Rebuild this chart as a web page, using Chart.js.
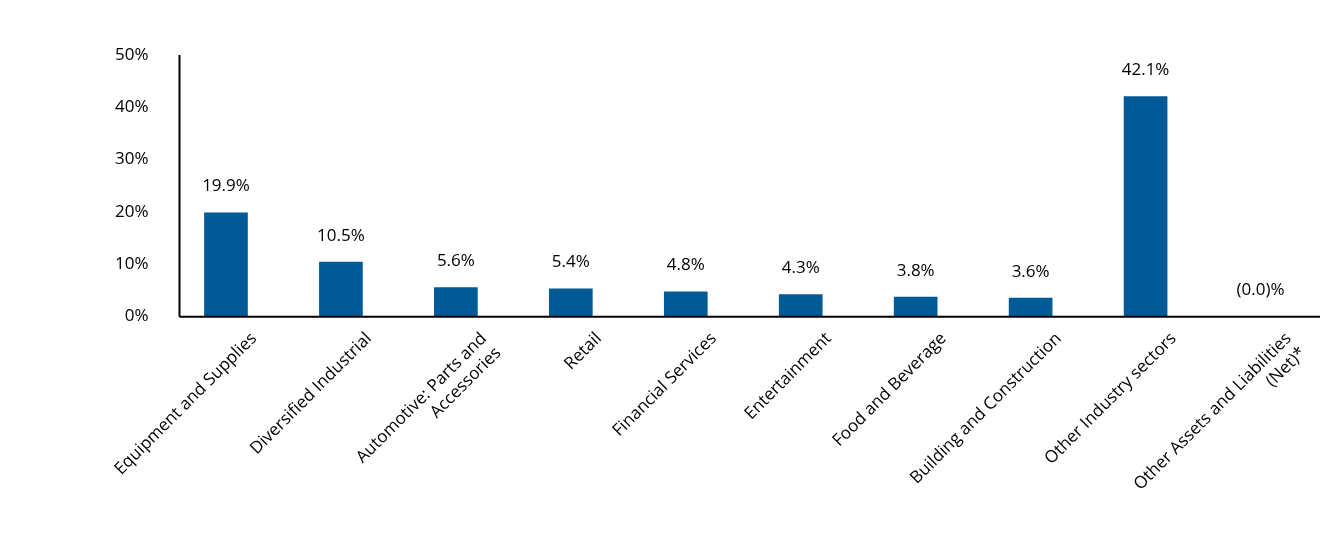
<!DOCTYPE html>
<html>
<head>
<meta charset="utf-8">
<script src="https://cdn.jsdelivr.net/npm/chart.js@4.4.1/dist/chart.umd.min.js"></script>
<style>
  html, body { margin: 0; padding: 0; background: #fff; }
  #wrap { width: 1320px; height: 540px; position: relative; }
</style>
</head>
<body>
<div id="wrap"><canvas id="sectorChart"></canvas></div>
<script>
// Sector breakdown, % of portfolio
const sectors = [
    'Equipment and Supplies',
    'Diversified Industrial',
    ['Automotive: Parts and', 'Accessories'],
    'Retail',
    'Financial Services',
    'Entertainment',
    'Food and Beverage',
    'Building and Construction',
    'Other Industry sectors',
    ['Other Assets and Liabilities', '(Net)*']
];
const weights = [19.9, 10.5, 5.6, 5.4, 4.8, 4.3, 3.8, 3.6, 42.1, -0.02];
const yTicks = [0, 10, 20, 30, 40, 50];

const FONT = 'Open Sans';
const BAR_BLUE = '#005a96';

function formatPct(v) {
    const s = Math.abs(v).toFixed(1);
    return v < 0 ? `(${s})%` : `${s}%`;
}

// value labels above each bar
const valueLabels = {
    id: 'valueLabels',
    afterDatasetsDraw(chart) {
        const ctx = chart.ctx;
        const meta = chart.getDatasetMeta(0);
        ctx.save();
        ctx.font = `17px "${FONT}"`;
        ctx.fillStyle = '#000';
        ctx.textAlign = 'center';
        ctx.textBaseline = 'middle';
        meta.data.forEach((bar, i) => {
            const top = Math.min(bar.y, bar.base);
            ctx.fillText(formatPct(weights[i]), bar.x, top - 26);
        });
        ctx.restore();
    }
};

// the value axis sits a little inside the category band
const axisLine = {
    id: 'axisLine',
    afterDraw(chart) {
        const { ctx, chartArea } = chart;
        const x = chartArea.left + 11;
        ctx.save();
        ctx.strokeStyle = '#000';
        ctx.lineWidth = 2;
        ctx.beginPath();
        ctx.moveTo(x, chartArea.top);
        ctx.lineTo(x, chartArea.bottom);
        ctx.stroke();
        ctx.beginPath();
        ctx.moveTo(x, chartArea.bottom);
        ctx.lineTo(chart.width, chartArea.bottom);
        ctx.stroke();
        ctx.restore();
    }
};

const ctx = document.getElementById('sectorChart');
new Chart(ctx, {
    type: 'bar',
    data: {
        labels: sectors,
        datasets: [{
            data: weights,
            backgroundColor: BAR_BLUE,
            borderWidth: 0,
            barPercentage: 0.38,
            categoryPercentage: 1
        }]
    },
    options: {
        responsive: true,
        maintainAspectRatio: false,
        animation: false,
        layout: {
            padding: { top: 55, right: 2, bottom: 19, left: 95 }
        },
        plugins: {
            legend: { display: false },
            tooltip: { enabled: false }
        },
        scales: {
            x: {
                grid: { display: false, drawTicks: false },
                border: { display: false },
                ticks: {
                    color: '#000',
                    font: { family: FONT, size: 17 },
                    maxRotation: 45,
                    minRotation: 45,
                    autoSkip: false,
                    padding: 12,
                    labelOffset: 28
                }
            },
            y: {
                min: 0,
                max: 50,
                afterBuildTicks(axis) {
                    axis.ticks = yTicks.map(v => ({ value: v }));
                },
                grid: { display: false, drawTicks: false },
                border: { display: false },
                ticks: {
                    color: '#000',
                    font: { family: FONT, size: 17 },
                    padding: 20,
                    callback: v => v + '%'
                }
            }
        }
    },
    plugins: [valueLabels, axisLine]
});
</script>
</body>
</html>
